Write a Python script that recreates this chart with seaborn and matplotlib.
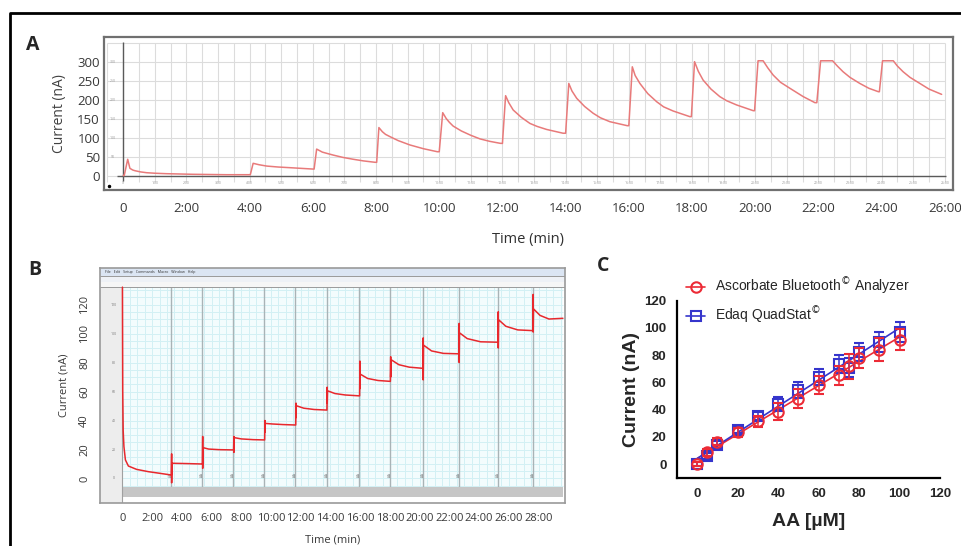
import numpy as np
import matplotlib
matplotlib.use("Agg")
import matplotlib.pyplot as plt
from matplotlib.lines import Line2D
from matplotlib.patches import Rectangle
import seaborn as sns

W, H = 962, 546

# ---- Panel A: trace recorded with the Bluetooth analyzer (min, nA)
a_time = [0, 0.03, 0.14, 0.21, 0.3, 0.37, 0.55, 0.74, 1.0, 1.37, 2.2, 3.27, 4.02,
          4.11, 4.3, 4.54, 4.9, 5.28, 5.98,
          6.04, 6.12, 6.3, 6.45, 6.65, 6.95, 7.28, 7.6, 7.97,
          8.02, 8.09, 8.2, 8.3, 8.44, 8.7, 9.07, 9.5, 9.94,
          10.0, 10.11, 10.22, 10.32, 10.44, 10.7, 11.0, 11.29, 11.6, 11.93,
          12.0, 12.1, 12.2, 12.34, 12.6, 12.87, 13.1, 13.4, 13.92,
          14.0, 14.1, 14.2, 14.35, 14.6, 14.87, 15.1, 15.4, 15.95,
          16.0, 16.11, 16.2, 16.35, 16.6, 16.88, 17.1, 17.4, 17.93,
          17.98, 18.08, 18.2, 18.35, 18.6, 18.88, 19.1, 19.41, 19.94,
          19.98, 20.09, 20.25, 20.4, 20.57, 20.8, 21.1, 21.52, 21.89,
          21.95, 22.07, 22.45, 22.6, 22.78, 23.0, 23.31, 23.6, 23.9,
          23.93, 24.03, 24.37, 24.5, 24.68, 24.9, 25.21, 25.5, 25.9]
a_current = [0, 0, 43, 19, 14.5, 12.7, 9.5, 7.4, 6, 4.8, 3.2, 2.1, 2.1,
             32.3, 28.5, 25, 22.5, 20.7, 17.2,
             17, 70, 62, 58.5, 54, 48, 43, 38.7, 35,
             35, 127, 116, 109, 103, 92.5, 81, 71, 63,
             63, 166.5, 151, 141, 131, 118, 106.5, 97, 90.5, 85.3,
             85, 211.5, 193, 173.6, 154, 138, 130, 122, 112,
             112, 244, 224, 204.6, 183, 165, 153, 142.6, 132,
             132, 288, 265, 244, 217, 195.6, 182, 171, 156,
             156, 301.6, 276, 253, 229, 209, 198, 187, 171.7,
             171.7, 304, 304, 285, 266, 247, 231, 209, 193,
             193, 304, 304, 290, 275, 260, 244, 231, 222,
             222, 304, 304, 290, 275, 260, 244, 229, 215]
a_xticks = list(range(0, 27, 2))
a_xlabels = ["0"] + [f"{m}:00" for m in range(2, 27, 2)]
a_yticks = [0, 50, 100, 150, 200, 250, 300]

# ---- Panel B: trace recorded with the Edaq QuadStat (min, nA)
b_time = [0.0, 0.02, 0.05, 0.1, 0.2, 0.4, 0.95, 1.75, 2.5, 3.29,
          3.31, 3.31, 3.33, 4.3, 5.38,
          5.40, 5.40, 5.42, 5.8, 6.5, 7.48,
          7.50, 7.50, 7.52, 8.0, 8.8, 9.57,
          9.59, 9.59, 9.61, 10.1, 10.8, 11.66,
          11.68, 11.68, 11.70, 12.2, 12.9, 13.76,
          13.78, 13.78, 13.80, 14.3, 15.0, 15.96,
          15.98, 15.98, 16.0, 16.5, 17.2, 18.03,
          18.05, 18.05, 18.07, 18.6, 19.3, 20.22,
          20.24, 20.24, 20.26, 20.8, 21.6, 22.64,
          22.66, 22.66, 22.68, 23.2, 24.1, 25.27,
          25.29, 25.29, 25.31, 25.8, 26.6, 27.62,
          27.64, 27.64, 27.66, 28.1, 28.7, 29.64]
b_current = [132, 60, 33, 22, 12.8, 8.6, 6.3, 4.7, 3.6, 2.4,
             17, -3, 10.5, 10.3, 10.0,
             29, 7, 21.3, 20.3, 19.9, 19.7,
             29, 18, 28.2, 27.3, 26.8, 26.6,
             40, 32, 38, 37.6, 37.2, 36.9,
             52, 42, 50.2, 48.5, 47.6, 47.2,
             63, 52, 60.5, 58.6, 57.6, 57,
             81, 62, 72, 69, 67.6, 67,
             84, 70, 82, 78.5, 76.8, 76,
             97, 68, 92, 88, 86.3, 86,
             107, 80, 100.5, 96.5, 94.3, 94,
             115, 90, 109.5, 105, 102.5, 102,
             127, 101, 117, 112.5, 110, 110.5]
b_events = [3.27, 5.36, 7.46, 9.55, 11.64, 13.74, 15.94, 18.01, 20.2, 22.62, 25.25, 27.6]
b_xticks = list(range(0, 29, 2))
b_xlabels = ["0"] + [f"{m}:00" for m in range(2, 29, 2)]
b_yticks = [0, 20, 40, 60, 80, 100, 120]

# ---- Panel C: calibration, AA concentration (uM) vs current (nA)
c_aa = [0, 5, 10, 20, 30, 40, 50, 60, 70, 75, 80, 90, 100]
c_ascorbate = [0, 8.6, 16.5, 23.3, 31.5, 38.6, 48, 58.3, 65.2, 71.8, 78.2, 84, 91.5]
c_ascorbate_err = [1.5, 2.5, 2.5, 3.5, 4, 6, 7, 6.6, 7, 9, 7.4, 8.5, 8]
c_edaq = [0, 6.1, 14.2, 25.3, 35.6, 44.3, 54.6, 64, 73.3, 70.8, 82.4, 89.7, 97.1]
c_edaq_err = [1.5, 2, 2.5, 2.5, 3, 5, 6, 6, 6.7, 7, 6.6, 7.3, 7.4]
c_ticks = [0, 20, 40, 60, 80, 100, 120]

sns.set_theme(style="white")
plt.rcParams['font.family'] = ['Open Sans', 'DejaVu Sans']

fig = plt.figure(figsize=(W / 100, H / 100), dpi=100)

# outer frame (left and top edges)
fig.add_artist(Line2D([10 / W, 10 / W, 1.0], [0, 1 - 13 / H, 1 - 13 / H],
                      transform=fig.transFigure, color='black', lw=2))

# ================= Panel A =================
axA = fig.add_axes([104 / W, 1 - 190 / H, 849 / W, 153 / H])
axA.set_xlim(-0.61, 26.26)
axA.set_ylim(-38.4, 367)
axA.vlines(np.arange(-0.5, 26.01, 0.5), -16, 350, color='#dcdcdc', lw=0.8, zorder=0)
axA.hlines(np.arange(0, 351, 50), -0.5, 26, color='#dcdcdc', lw=0.8, zorder=0)
axA.hlines(0, -0.2, 26.05, color='#5a5a5a', lw=1, zorder=1)
axA.vlines(0, -14, 355, color='#5a5a5a', lw=1, zorder=1)
sns.lineplot(x=a_time, y=a_current, ax=axA, color='#e87a7a', lw=1.1,
             sort=False, estimator=None, zorder=3)
for v in a_yticks[1:]:
    axA.text(-0.32, v, str(v), fontsize=2.5, color='#999999', ha='center', va='center')
for m in range(0, 27):
    axA.text(m, -20, "0" if m == 0 else f"{m}:00", fontsize=2.5, color='#999999',
             ha='center', va='center')
axA.plot([-0.45], [-27], marker='o', ms=1.5, color='black')
axA.set_xticks(a_xticks)
axA.set_xticklabels(a_xlabels)
axA.set_yticks(a_yticks)
axA.tick_params(axis='x', length=0, pad=9, labelsize=9.5, labelcolor='#383838')
axA.tick_params(axis='y', length=0, pad=3, labelsize=9.5, labelcolor='#383838')
axA.set_ylabel('Current (nA)', fontsize=10, color='#404040', labelpad=7)
axA.set_xlabel('Time (min)', fontsize=10.5, color='#303030', labelpad=12)
for s in axA.spines.values():
    s.set_color('#707070')
    s.set_linewidth(1.6)

# ================= Panel B =================
axB = fig.add_axes([100 / W, 1 - 503 / H, 465 / W, 235 / H])
axB.set_xlim(-1.51, 29.78)
axB.set_ylim(-16.9, 145.2)
axB.add_patch(Rectangle((0, -5.9), 29.64, 137.9, facecolor='#f3fcfd', edgecolor='none', zorder=0))
axB.vlines(np.arange(0.5, 29.64, 0.5), -5.9, 132, color='#d3f0f4', lw=0.7, zorder=0)
axB.hlines(np.arange(-5, 132, 5), 0, 29.64, color='#d3f0f4', lw=0.7, zorder=0)
axB.vlines(b_events, -5.9, 132, color='#a9b3b6', lw=1, zorder=1)
axB.add_patch(Rectangle((0, -12.8), 29.64, 6.9, facecolor='#c6c6c6', edgecolor='none', zorder=1))
axB.add_patch(Rectangle((-1.51, -16.9), 1.51, 148.9, facecolor='#ededed', edgecolor='none', zorder=1))
axB.vlines(0, -16.9, 132, color='#a0a0a0', lw=0.8, zorder=2)
axB.add_patch(Rectangle((-1.51, 139.7), 31.3, 5.5, facecolor='#dbe5f3', edgecolor='none', zorder=2))
axB.add_patch(Rectangle((-1.51, 135.5), 31.3, 4.2, facecolor='#eef1f6', edgecolor='none', zorder=2))
axB.add_patch(Rectangle((-1.51, 132), 31.3, 3.5, facecolor='#f6f6f6', edgecolor='none', zorder=2))
axB.hlines([132, 139.7], -1.51, 29.78, color='#9a9a9a', lw=0.7, zorder=3)
axB.text(-1.2, 142.4, "File   Edit   Setup   Commands   Macro   Window   Help",
         fontsize=2.6, color='#333333', va='center', zorder=4)
for v in b_yticks:
    axB.text(-0.6, v, str(v), fontsize=2.5, color='#777777', ha='center', va='center', zorder=4)
for t in b_events:
    axB.text(t, 2, "AA", fontsize=2.2, color='#555555', rotation=90,
             ha='center', va='center', zorder=4)
sns.lineplot(x=b_time, y=b_current, ax=axB, color='#e8282d', lw=1.1,
             sort=False, estimator=None, zorder=5)
axB.set_xticks(b_xticks)
axB.set_xticklabels(b_xlabels)
axB.set_yticks(b_yticks)
axB.set_yticklabels([str(v) for v in b_yticks], rotation=90, va='center')
axB.tick_params(axis='x', length=0, pad=7, labelsize=8, labelcolor='#383838')
axB.tick_params(axis='y', length=0, pad=7, labelsize=8, labelcolor='#383838')
axB.set_ylabel('Current (nA)', fontsize=8, color='#383838', labelpad=7)
axB.set_xlabel('Time (min)', fontsize=8, color='#383838', labelpad=8)
for s in axB.spines.values():
    s.set_color('#9a9a9a')
    s.set_linewidth(1.2)

# ================= Panel C =================
red, blue = '#ec2b36', '#3535cc'
cfont = ['Liberation Sans', 'DejaVu Sans']
axC = fig.add_axes([677 / W, 1 - 477.7 / H, 263 / W, 177 / H])
sns.regplot(x=c_aa, y=c_ascorbate, ax=axC, ci=None, scatter=False,
            line_kws=dict(color=red, lw=1.2))
sns.regplot(x=c_aa, y=c_edaq, ax=axC, ci=None, scatter=False,
            line_kws=dict(color=blue, lw=1.2))
axC.errorbar(c_aa, c_ascorbate, yerr=c_ascorbate_err, fmt='o', color=red, ms=7.5,
             mfc='none', mew=1.5, elinewidth=1.1, capsize=3.5, capthick=1.1, zorder=4)
axC.errorbar(c_aa, c_edaq, yerr=c_edaq_err, fmt='s', color=blue, ms=7,
             mfc='none', mew=1.5, elinewidth=1.1, capsize=3.5, capthick=1.1, zorder=3)
axC.set_xlim(-10, 120)
axC.set_ylim(-10, 120)
axC.set_xticks(c_ticks)
axC.set_yticks(c_ticks)
sns.despine(ax=axC)
for s in ('left', 'bottom'):
    axC.spines[s].set_color('black')
    axC.spines[s].set_linewidth(1.6)
axC.tick_params(length=5, width=1.5, color='black', pad=2.5, labelsize=9.5)
for lab in axC.get_xticklabels() + axC.get_yticklabels():
    lab.set_family(cfont)
    lab.set_fontweight('bold')
axC.set_ylabel('Current (nA)', fontsize=14, fontweight='bold', family=cfont, labelpad=3)
axC.set_xlabel('AA [\u00b5M]', fontsize=14, fontweight='bold', family=cfont, labelpad=9)
handles = [Line2D([], [], color=red, marker='o', ms=7.5, mfc='none', mew=1.5, lw=1.2),
           Line2D([], [], color=blue, marker='s', ms=7, mfc='none', mew=1.5, lw=1.2)]
fig.legend(handles, ['Ascorbate Bluetooth$^{\u00a9}$ Analyzer', 'Edaq QuadStat$^{\u00a9}$'],
           loc='upper left', bbox_to_anchor=(686 / W, 1 - 276 / H), frameon=False,
           prop=dict(family=cfont, size=10), handlelength=1.4, handletextpad=0.7,
           labelspacing=0.55, borderpad=0, borderaxespad=0)

# panel letters
fig.text(33 / W, 1 - 45 / H, 'A', fontsize=14, fontweight='bold', ha='center', va='center')
fig.text(35 / W, 1 - 270 / H, 'B', fontsize=14, fontweight='bold', ha='center', va='center')
fig.text(603 / W, 1 - 266 / H, 'C', fontsize=14, fontweight='bold', ha='center', va='center')

fig.savefig('out.png', dpi=100)
